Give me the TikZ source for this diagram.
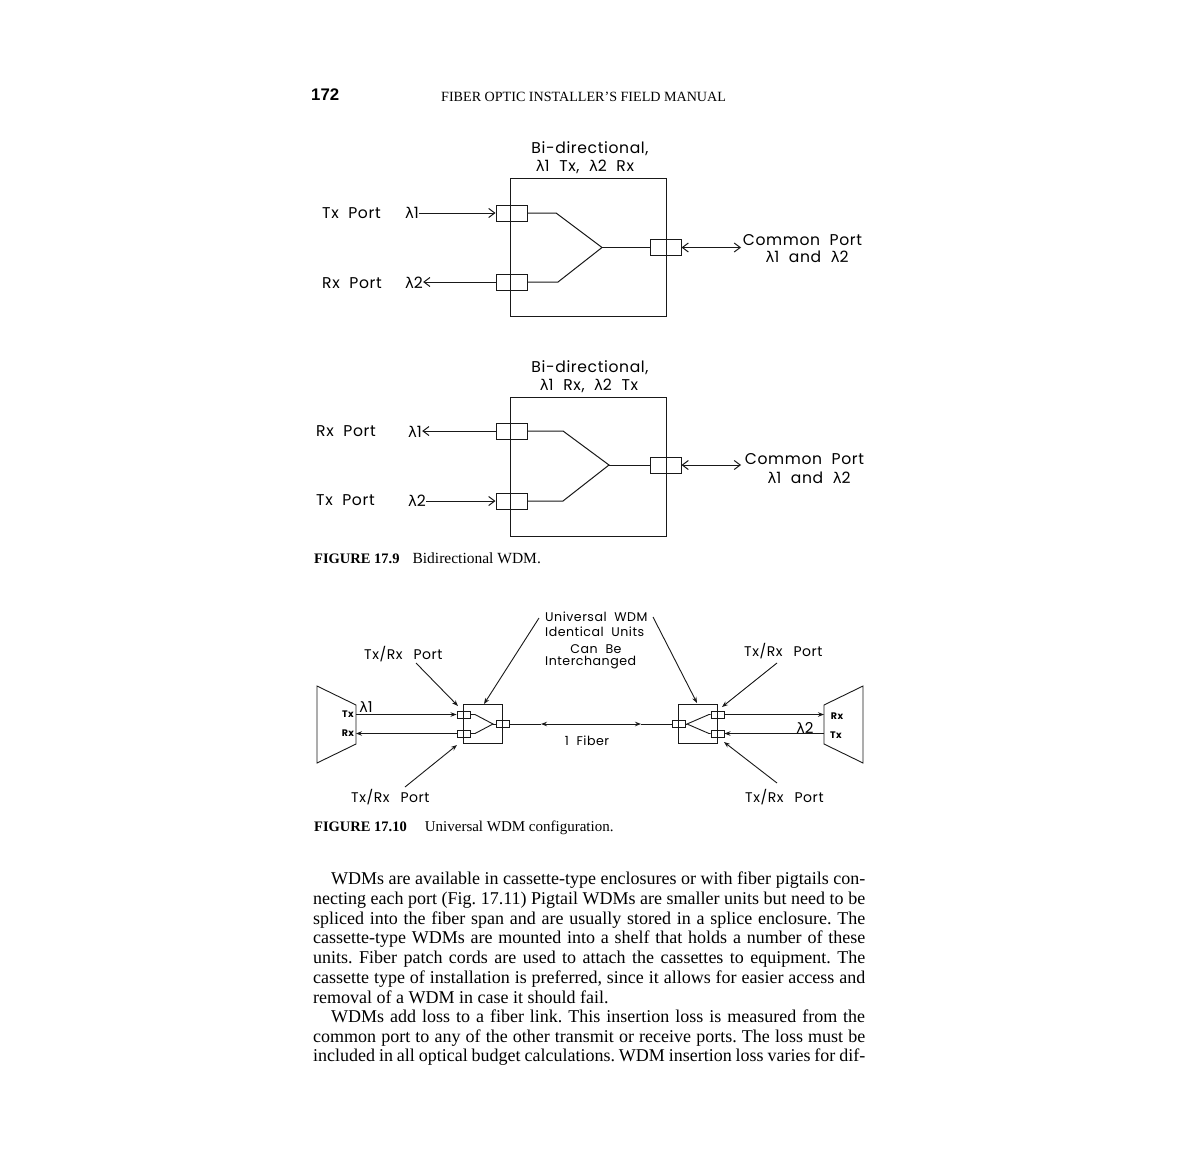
\documentclass[tikz,border=0pt]{standalone}
\usepackage{fontspec}
\setmainfont{Liberation Serif}
\newfontfamily\diagfont[LetterSpace=4]{Poppins}
\newfontfamily\lamfont{DejaVu Sans}
\newfontfamily\headfont{Liberation Sans}
\usetikzlibrary{arrows.meta}
\newcommand{\Lam}{{\lamfont\addfontfeatures{Scale=0.95}λ}}
\newcommand{\pageline}[4]{\node[bodyline] (#1) at (#2,#3) {\hbox to \dimexpr865pt-#2pt\relax{\frenchspacing\spaceskip=4pt plus 30pt minus 2pt #4}};}
\tikzset{
  x=1pt,y=-1pt,
  diag/.style={inner sep=0pt,font=\diagfont\fontsize{15.6}{15.6}\selectfont},
  diagl/.style={diag,anchor=west},
  diagsm/.style={inner sep=0pt,font=\diagfont\fontsize{12.6}{13}\selectfont},
  diagsml/.style={diagsm,anchor=west},
  portlabel/.style={inner sep=0pt,anchor=west,font=\diagfont\fontsize{14}{14}\selectfont},
  lamlabel/.style={inner sep=0pt,font=\diagfont\fontsize{15}{15}\selectfont},
  tiny label/.style={inner sep=0pt,font=\diagfont\fontsize{9.5}{10}\selectfont\bfseries},
  bodyline/.style={inner sep=0pt,anchor=base west,font=\fontsize{18}{20}\selectfont},
  wire/.style={draw=black!90,line width=1pt},
  thinwire/.style={draw=black!90,line width=0.9pt},
  bigbox/.style={draw=black!90,line width=1pt,fill=none,minimum width=156pt,minimum height=138pt,inner sep=0pt},
  smallbox/.style={draw=black!90,line width=0.9pt,fill=none,minimum width=39pt,minimum height=39pt,inner sep=0pt},
  bigport/.style={draw=black!90,line width=1pt,fill=none,minimum width=31pt,minimum height=16pt,inner sep=0pt},
  smallport/.style={draw=black!90,line width=0.9pt,fill=none,minimum width=13pt,minimum height=7pt,inner sep=0pt},
  arr/.style={wire,-{Straight Barb[length=6pt,width=9pt]}},
  darr/.style={wire,{Straight Barb[length=6pt,width=9pt]}-{Straight Barb[length=6pt,width=9pt]}},
  sarr/.style={thinwire,-{Stealth[length=6pt,width=4.5pt]}},
  dsarr/.style={thinwire,{Stealth[length=6pt,width=4.5pt]}-{Stealth[length=6pt,width=4.5pt]}},
}
\begin{document}
\begin{tikzpicture}
\useasboundingbox[fill=white] (0,0) rectangle (1191,1154);

% header
\node[inner sep=0pt,anchor=base west,font=\headfont\fontsize{16.8}{18}\selectfont\bfseries] (pagenum) at (311,100) {172};
\node[inner sep=0pt,anchor=base west,font=\fontsize{14.1}{14}\selectfont] (runhead) at (441,101) {FIBER OPTIC INSTALLER'S FIELD MANUAL};

% ---------- upper WDM
\node[diag] (t1a) at (590,149) {Bi-directional,};
\node[diag] (t1b) at (585,167) {\Lam1 \ Tx, \ \Lam2 \ Rx};
\node[bigbox] (box1) at (588,247) {};
\node[bigport] (p1a) at (511.5,213) {};
\node[bigport] (p1b) at (511.5,282) {};
\node[bigport] (p1c) at (665.5,247.5) {};
\coordinate (j1a) at (556,213);
\coordinate (j1b) at (558,282);
\coordinate (j1c) at (602,247.5);
\draw[wire] (p1a.east) -- (j1a) -- (j1c) -- (j1b) -- (p1b.east);
\draw[wire] (j1c) -- (p1c.west);
\node[diagl] (tx1) at (322,213) {Tx \ Port};
\node[diagl] (l1a) at (405,213) {\Lam1};
\node[diagl] (rx1) at (322,283) {Rx \ Port};
\node[diagl] (l1b) at (405,283) {\Lam2};
\draw[arr] (l1a.east |- p1a.west) -- (p1a.west);
\draw[arr] (p1b.west) -- (l1b.east |- p1b.west);
\node[diag] (cp1) at (802.5,240) {Common \ Port};
\node[diag] (cp1b) at (807,257) {\Lam1 \ and \ \Lam2};
\draw[darr] (p1c.east) -- (741,247.5) coordinate (c1end);

% ---------- lower WDM
\node[diag] (t2a) at (590,368) {Bi-directional,};
\node[diag] (t2b) at (589,386) {\Lam1 \ Rx, \ \Lam2 \ Tx};
\node[bigbox,minimum height=139pt] (box2) at (588,466.5) {};
\node[bigport] (p2a) at (511.5,431) {};
\node[bigport] (p2b) at (511.5,501) {};
\node[bigport] (p2c) at (665.5,465) {};
\coordinate (j2a) at (563,431);
\coordinate (j2b) at (563,501);
\coordinate (j2c) at (609,465);
\draw[wire] (p2a.east) -- (j2a) -- (j2c) -- (j2b) -- (p2b.east);
\draw[wire] (j2c) -- (p2c.west);
\node[diagl] (rx2) at (316,431) {Rx \ Port};
\node[diagl] (l2a) at (408,432) {\Lam1};
\node[diagl] (tx2) at (316,500) {Tx \ Port};
\node[diagl] (l2b) at (408,501) {\Lam2};
\draw[arr] (p2a.west) -- (l2a.east |- p2a.west);
\draw[arr] (l2b.east |- p2b.west) -- (p2b.west);
\node[diag] (cp2) at (804.5,459) {Common \ Port};
\node[diag] (cp2b) at (809,478) {\Lam1 \ and \ \Lam2};
\draw[darr] (p2c.east) -- (741,465) coordinate (c2end);

\node[inner sep=0pt,anchor=base west,font=\fontsize{14.5}{15}\selectfont] (cap1) at (314,563) {\textbf{FIGURE 17.9}\hspace{13pt}{\fontsize{15.5}{15}\selectfont Bidirectional WDM.}};

% ---------- universal WDM
\node[diagsml] (u1) at (545,617) {Universal \ WDM};
\node[diagsml] (u2) at (545,632) {Identical \ Units};
\node[diagsm] (u3) at (596,649) {Can \ Be};
\node[diagsml] (u4) at (545,663) {Interchanged};
\node[diagsm] (fib) at (587,741) {1 \ Fiber};
\node[portlabel] (tl) at (364,654) {Tx/Rx \ \,Port};
\node[portlabel] (bl) at (351,797) {Tx/Rx \ \,Port};
\node[portlabel] (tr) at (744,651) {Tx/Rx \ \,Port};
\node[portlabel] (br) at (745,797) {Tx/Rx \ \,Port};

% left terminal
\draw[thinwire] (317,686) -- (356,705) coordinate (lt1) -- (356,744) coordinate (lt2) -- (317,763) -- cycle;
\node[tiny label] (ltx) at (348,714) {Tx};
\node[tiny label] (lrx) at (348,733) {Rx};
\coordinate (ltxe) at (356,714.5);
\coordinate (lrxe) at (356,733.5);
\node[lamlabel] (lam1) at (366,707) {\Lam1};

% left WDM
\node[smallbox] (b3) at (483,723.5) {};
\node[smallport] (p3a) at (463.5,714.5) {};
\node[smallport] (p3b) at (463.5,733.5) {};
\node[smallport] (p3c) at (502.5,724) {};
\coordinate (j3a) at (475,714.5);
\coordinate (j3b) at (475,733.5);
\coordinate (j3c) at (493,724);
\draw[thinwire] (p3a.east) -- (j3a) -- (j3c) -- (j3b) -- (p3b.east);
\draw[thinwire] (j3c) -- (p3c.west);
\draw[sarr] (ltxe) -- (p3a.west);
\draw[sarr] (p3b.west) -- (lrxe);

% right WDM
\node[smallbox] (b4) at (697.5,724) {};
\node[smallport] (p4a) at (717.5,714.5) {};
\node[smallport] (p4b) at (717.5,733.5) {};
\node[smallport] (p4c) at (678.5,724) {};
\coordinate (j4a) at (709,714.5);
\coordinate (j4b) at (709,733.5);
\coordinate (j4c) at (687,724);
\draw[thinwire] (p4a.west) -- (j4a) -- (j4c) -- (j4b) -- (p4b.west);
\draw[thinwire] (j4c) -- (p4c.east);

% right terminal
\draw[thinwire] (863,686) -- (824,705) -- (824,744) -- (863,763) -- cycle;
\node[tiny label] (rrx) at (837,716) {Rx};
\node[tiny label] (rtx) at (836,735) {Tx};
\coordinate (rrxe) at (824,714.5);
\coordinate (rtxe) at (824,733.5);
\node[lamlabel] (lam2) at (805,728) {\Lam2};
\draw[sarr] (p4a.east) -- (rrxe);
\draw[sarr] (rtxe) -- (p4b.east);

% fibre
\coordinate (fa) at (541,724);
\coordinate (fb) at (641,724);
\draw[thinwire] (p3c.east) -- (fa);
\draw[dsarr] (fa) -- (fb);
\draw[thinwire] (fb) -- (p4c.west);

% pointers
\coordinate (a1s) at (416,663);
\coordinate (a1e) at (458,706);
\coordinate (a2s) at (405,787);
\coordinate (a2e) at (457,745);
\coordinate (a3s) at (539,618);
\coordinate (a3e) at (484,704);
\coordinate (a4s) at (653,617);
\coordinate (a4e) at (697,703);
\coordinate (a5s) at (777,663);
\coordinate (a5e) at (722,707);
\coordinate (a6s) at (777,783);
\coordinate (a6e) at (724,742);
\foreach \i in {1,...,6} \draw[sarr] (a\i s) -- (a\i e);

\node[inner sep=0pt,anchor=base west,font=\fontsize{14.5}{15}\selectfont] (cap2) at (314,831) {\textbf{FIGURE 17.10}\hspace{18pt}{\fontsize{15}{15}\selectfont Universal WDM configuration.}};

% ---------- body text
\pageline{b1}{331}{884}{WDMs are available in cassette-type enclosures or with fiber pigtails con-}
\pageline{b2}{313}{904}{necting each port (Fig. 17.11) Pigtail WDMs are smaller units but need to be}
\pageline{b3l}{313}{924}{spliced into the fiber span and are usually stored in a splice enclosure. The}
\pageline{b4l}{313}{943}{cassette-type WDMs are mounted into a shelf that holds a number of these}
\pageline{b5}{313}{963}{units. Fiber patch cords are used to attach the cassettes to equipment. The}
\pageline{b6}{313}{983}{cassette type of installation is preferred, since it allows for easier access and}
\node[bodyline] (b7) at (313,1003) {removal of a WDM in case it should fail.};
\pageline{b8}{331}{1022}{WDMs add loss to a fiber link. This insertion loss is measured from the}
\pageline{b9}{313}{1042}{common port to any of the other transmit or receive ports. The loss must be}
\pageline{b10}{313}{1061}{included in all optical budget calculations. WDM insertion loss varies for dif-}
\end{tikzpicture}
\end{document}
